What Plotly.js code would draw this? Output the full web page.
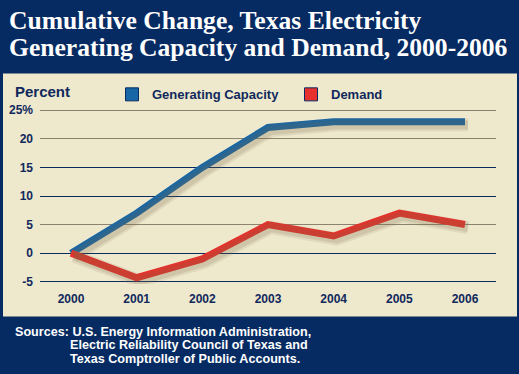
<!DOCTYPE html>
<html>
<head>
<meta charset="utf-8">
<script src="https://cdn.plot.ly/plotly-3.0.1.min.js"></script>
<style>html,body{margin:0;padding:0;background:#062b62;}#chart{width:519px;height:374px;}</style>
</head>
<body>
<div id="chart"></div>
<script>
// ---- data ----
var years = [2000, 2001, 2002, 2003, 2004, 2005, 2006];
var generatingCapacity = [0, 7, 15, 22, 23, 23, 23];
var demand = [0, -4.3, -1, 5, 3, 7, 5];
var yTickVals = [-5, 0, 5, 10, 15, 20, 25];
var yTickText = ['-5', '0', '5', '10', '15', '20', '25%'];
var grayGridVals = [5, 20, 25];
var seriesNames = ['Generating Capacity', 'Demand'];

// ---- style ----
var NAVY = '#062b62';
var CREAM = '#eee8cd';
var BLUE = '#1766a6';
var RED = '#e8302c';
var TEXT = '#10295c';

var W = 519, H = 374;
var mL = 40, mR = 23, mT = 107.7, mB = 89.7;
var pw = W - mL - mR, ph = H - mT - mB;
var xr = [1999.528, 2006.472];
var yr = [-5.4, 25.4];
var pxX = (xr[1] - xr[0]) / pw, pxY = (yr[1] - yr[0]) / ph;
function px2paperX(p) { return (p - mL) / pw; }
function px2paperY(p) { return (H - mB - p) / ph; }

var shadowOuter = 'rgba(120,105,70,0.12)';
var shadowInner = 'rgba(120,105,70,0.16)';
function shadow(yv, w, c) {
  return {x: years, y: yv, xaxis: 'x2', yaxis: 'y2', mode: 'lines', line: {color: c, width: w}, showlegend: false, hoverinfo: 'skip'};
}
var traces = [
  shadow(generatingCapacity, 13, shadowOuter),
  shadow(demand, 13, shadowOuter),
  shadow(generatingCapacity, 9, shadowInner),
  shadow(demand, 9, shadowInner),
  {x: years, y: generatingCapacity, mode: 'lines', line: {color: BLUE, width: 7}, showlegend: false, name: seriesNames[0]},
  {x: years, y: demand, mode: 'lines', line: {color: RED, width: 7}, showlegend: false, name: seriesNames[1]},
  {x: [null], y: [null], mode: 'markers', name: seriesNames[0], marker: {symbol: 'square', size: 13, color: BLUE, line: {color: NAVY, width: 1}}},
  {x: [null], y: [null], mode: 'markers', name: seriesNames[1], marker: {symbol: 'square', size: 13, color: RED, line: {color: NAVY, width: 1}}},
  {x: [null], y: [null], xaxis: 'x', yaxis: 'y3', mode: 'lines', showlegend: false, hoverinfo: 'skip'}
];

var layout = {
  width: W, height: H,
  margin: {l: mL, r: mR, t: mT, b: mB},
  paper_bgcolor: NAVY,
  plot_bgcolor: 'rgba(0,0,0,0)',
  showlegend: true,
  font: {family: 'Liberation Sans', color: TEXT},
  xaxis: {range: xr, tickvals: years, ticktext: years.map(String), showgrid: false, zeroline: false, showline: false, ticks: '', ticklabelstandoff: 6, tickfont: {size: 12, weight: 'bold', color: TEXT}, fixedrange: true},
  yaxis: {range: yr, tickvals: yTickVals, ticktext: yTickText, showgrid: true, gridcolor: '#0b2a5e', gridwidth: 1, zeroline: false, showline: false, ticks: '', ticklabelstandoff: 6, tickfont: {size: 12, weight: 'bold', color: TEXT}, fixedrange: true},
  yaxis3: {range: yr, overlaying: 'y', tickvals: grayGridVals, showticklabels: false, showgrid: true, gridcolor: '#8b8370', gridwidth: 1, zeroline: false, ticks: ''},
  xaxis2: {range: [xr[0] - 3 * pxX, xr[1] - 3 * pxX], overlaying: 'x', visible: false},
  yaxis2: {range: [yr[0] + 3 * pxY, yr[1] + 3 * pxY], overlaying: 'y', visible: false},
  legend: {orientation: 'h', x: px2paperX(112), xanchor: 'left', y: px2paperY(79), yanchor: 'top', bgcolor: 'rgba(0,0,0,0)', font: {size: 13, weight: 'bold', color: TEXT, family: 'Liberation Sans'}, entrywidth: 134, entrywidthmode: 'pixels', itemwidth: 30, traceorder: 'normal'},
  shapes: [
    {type: 'rect', xref: 'paper', yref: 'paper', x0: px2paperX(3), x1: px2paperX(517), y0: px2paperY(317), y1: px2paperY(73), fillcolor: CREAM, line: {width: 0}, layer: 'below'}
  ],
  annotations: [
    {xref: 'paper', yref: 'paper', x: px2paperX(7), y: px2paperY(20), xanchor: 'left', yanchor: 'middle', showarrow: false, align: 'left', text: 'Cumulative Change, Texas Electricity', font: {family: 'Liberation Serif', size: 25.6, weight: 'bold', color: '#ffffff'}},
    {xref: 'paper', yref: 'paper', x: px2paperX(7), y: px2paperY(47), xanchor: 'left', yanchor: 'middle', showarrow: false, align: 'left', text: 'Generating Capacity and Demand, 2000-2006', font: {family: 'Liberation Serif', size: 25.6, weight: 'bold', color: '#ffffff'}},
    {xref: 'paper', yref: 'paper', x: px2paperX(13), y: px2paperY(91), xanchor: 'left', yanchor: 'middle', showarrow: false, text: 'Percent', font: {family: 'Liberation Sans', size: 15, weight: 'bold', color: TEXT}},
    {xref: 'paper', yref: 'paper', x: px2paperX(13), y: px2paperY(332), xanchor: 'left', yanchor: 'middle', showarrow: false, text: 'Sources: U.S. Energy Information Administration,', font: {family: 'Liberation Sans', size: 12.6, weight: 'bold', color: '#ffffff'}},
    {xref: 'paper', yref: 'paper', x: px2paperX(68), y: px2paperY(346), xanchor: 'left', yanchor: 'middle', showarrow: false, text: 'Electric Reliability Council of Texas and', font: {family: 'Liberation Sans', size: 12.6, weight: 'bold', color: '#ffffff'}},
    {xref: 'paper', yref: 'paper', x: px2paperX(68), y: px2paperY(360), xanchor: 'left', yanchor: 'middle', showarrow: false, text: 'Texas Comptroller of Public Accounts.', font: {family: 'Liberation Sans', size: 12.6, weight: 'bold', color: '#ffffff'}}
  ]
};

Plotly.newPlot('chart', traces, layout, {staticPlot: true, displayModeBar: false});
</script>
</body>
</html>
